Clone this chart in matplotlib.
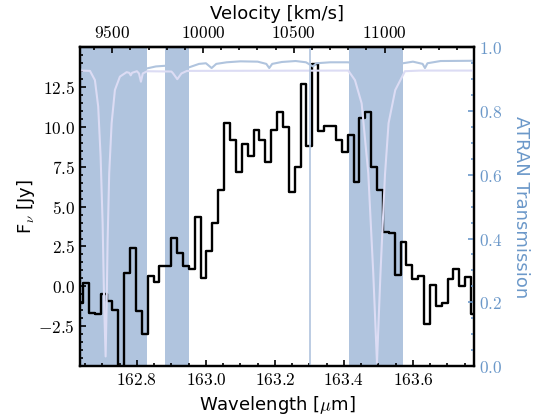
import numpy as np
import matplotlib
matplotlib.use('Agg')
import matplotlib.pyplot as plt
from matplotlib.ticker import MultipleLocator, FixedLocator, FuncFormatter

plt.rcParams['mathtext.fontset'] = 'cm'
plt.rcParams['font.family'] = ['DejaVu Sans']

# observed spectrum (regular channel grid)
wave_start = 162.6352
chan_width = 0.017043
flux = [-1.04, 0.21, -1.66, -1.76, -0.46, -0.93, -1.50, -6.0, 0.83, 2.39,
        -1.56, -3.01, 0.62, 0.25, 1.29, 1.25, 3.02, 2.08, 1.29, 1.08,
        4.36, 0.52, 2.24, 3.95, 6.07, 10.22, 9.19, 7.17, 8.94, 8.21,
        9.81, 9.19, 7.79, 9.81, 10.91, 10.02, 5.92, 7.48, 12.68, 8.83,
        13.97, 9.73, 10.08, 10.05, 9.19, 8.42, 9.52, 6.55, 10.56, 10.91,
        7.48, 6.07, 3.43, 3.33, 0.73, 2.81, 1.35, 0.46, 0.62, -2.39,
        0.11, -1.25, -1.04, 0.46, 1.08, 0.04, 0.59, -1.76]
flux_ticks = [-2.5, 0.0, 2.5, 5.0, 7.5, 10.0, 12.5]

# ATRAN transmission, high resolution (pale curve with deep lines)
atran_wave = [162.600, 162.640, 162.664, 162.6783, 162.6878, 162.6948, 162.7006,
              162.7052, 162.7093, 162.7122, 162.7151, 162.7197, 162.7267, 162.7362,
              162.7507, 162.7701, 162.778, 162.782, 162.786, 162.800, 162.806,
              162.8116, 162.817, 162.830, 162.900, 162.905, 162.917, 162.929,
              162.945, 163.400, 163.4125, 163.4319, 163.4513, 163.4705, 163.4850,
              163.4957, 163.5058, 163.5189, 163.5293, 163.5487, 163.5768, 163.620,
              163.800]
atran_trans = [0.927, 0.927, 0.926, 0.897, 0.814, 0.657, 0.448,
               0.186, 0.03, 0.186, 0.395, 0.605, 0.762, 0.866,
               0.908, 0.922, 0.920, 0.912, 0.920, 0.925, 0.918,
               0.892, 0.918, 0.925, 0.924, 0.918, 0.900, 0.918,
               0.926, 0.927, 0.927, 0.897, 0.824, 0.605, 0.29,
               0.01, 0.29, 0.60, 0.762, 0.866, 0.925, 0.927,
               0.927]

# ATRAN transmission, second model
atran2_wave = [162.600, 162.830, 162.855, 162.881, 162.920, 162.9507, 162.980,
               163.000, 163.0165, 163.030, 163.060, 163.100, 163.150, 163.175,
               163.1835, 163.192, 163.220, 163.260, 163.290, 163.3101, 163.320,
               163.360, 163.410, 163.450, 163.571, 163.600, 163.628, 163.6348,
               163.642, 163.680, 163.800]
atran2_trans = [0.930, 0.934, 0.940, 0.942, 0.935, 0.937, 0.948,
                0.950, 0.935, 0.948, 0.953, 0.956, 0.955, 0.948,
                0.935, 0.948, 0.954, 0.957, 0.953, 0.940, 0.950,
                0.953, 0.953, 0.950, 0.950, 0.955, 0.948, 0.935,
                0.950, 0.957, 0.958]

# bad transmission windows
shade_lo = [162.60, 162.882, 163.415]
shade_hi = [162.829, 162.950, 163.572]
line_wave = 163.301

c_kms = 299792.458
lam0 = 157.7302
atran_color = '#6b98c9'


def lam2vel(lam):
    return c_kms * (np.asarray(lam) / lam0 - 1.0)


def vel2lam(vel):
    return lam0 * (1.0 + np.asarray(vel) / c_kms)


wave = wave_start + chan_width * np.arange(len(flux))

fig = plt.figure(figsize=(5.35, 4.18), dpi=100)
ax = fig.add_axes([0.1495, 0.1244, 0.7359, 0.7624])

for lo, hi in zip(shade_lo, shade_hi):
    ax.axvspan(lo, hi, color='lightsteelblue', lw=0, zorder=0)
ax.plot(wave, flux, drawstyle='steps-mid', color='black', lw=1.7, zorder=3)

ax.set_xlim(162.635, 163.776)
ax.set_ylim(-5, 15)
ax.set_xlabel(r'Wavelength [$\mu$m]', fontsize=13)
ax.set_ylabel(r'F$_\nu$ [Jy]', fontsize=13, labelpad=1)
ax.xaxis.set_major_locator(MultipleLocator(0.2))
ax.xaxis.set_minor_locator(MultipleLocator(0.05))
ax.yaxis.set_major_locator(FixedLocator(flux_ticks))
ax.yaxis.set_minor_locator(MultipleLocator(0.5))
ax.xaxis.set_major_formatter(FuncFormatter(lambda v, p: '$%.1f$' % v))
ax.yaxis.set_major_formatter(FuncFormatter(lambda v, p: '$%.1f$' % v))
ax.tick_params(which='both', direction='in', top=False, right=False, labelsize=12.5, width=1.2)
ax.tick_params(which='major', length=4.5)
ax.tick_params(which='minor', length=2.5)
for sp in ax.spines.values():
    sp.set_linewidth(1.6)

ax2 = ax.twinx()
ax2.plot(atran2_wave, atran2_trans, color='lightsteelblue', lw=1.5)
ax2.plot(atran_wave, atran_trans, color='#dcdcf4', lw=1.5)
ax2.axvline(line_wave, color='lightsteelblue', lw=1.2)
ax2.set_ylim(0, 1)
ax2.yaxis.set_major_locator(MultipleLocator(0.2))
ax2.yaxis.set_minor_locator(MultipleLocator(0.05))
ax2.yaxis.set_major_formatter(FuncFormatter(lambda v, p: '$%.1f$' % v))
ax2.tick_params(which='both', direction='in', colors=atran_color, labelsize=12.5, width=1.2)
ax2.tick_params(which='major', length=4.5)
ax2.tick_params(which='minor', length=2.5)
ax2.set_ylabel('ATRAN Transmission', color=atran_color, fontsize=13, rotation=270, labelpad=20)
for sp in ax2.spines.values():
    sp.set_linewidth(1.6)

sec = ax.secondary_xaxis('top', functions=(lam2vel, vel2lam))
sec.xaxis.set_major_locator(MultipleLocator(500))
sec.xaxis.set_minor_locator(MultipleLocator(100))
sec.xaxis.set_major_formatter(FuncFormatter(lambda v, p: '$%d$' % v))
sec.tick_params(which='both', direction='in', labelsize=12.5, width=1.2)
sec.tick_params(which='major', length=4.5)
sec.tick_params(which='minor', length=2.5)
sec.set_xlabel('Velocity [km/s]', fontsize=13)
sec.spines['top'].set_linewidth(1.6)

fig.savefig('out.png', dpi=100)
